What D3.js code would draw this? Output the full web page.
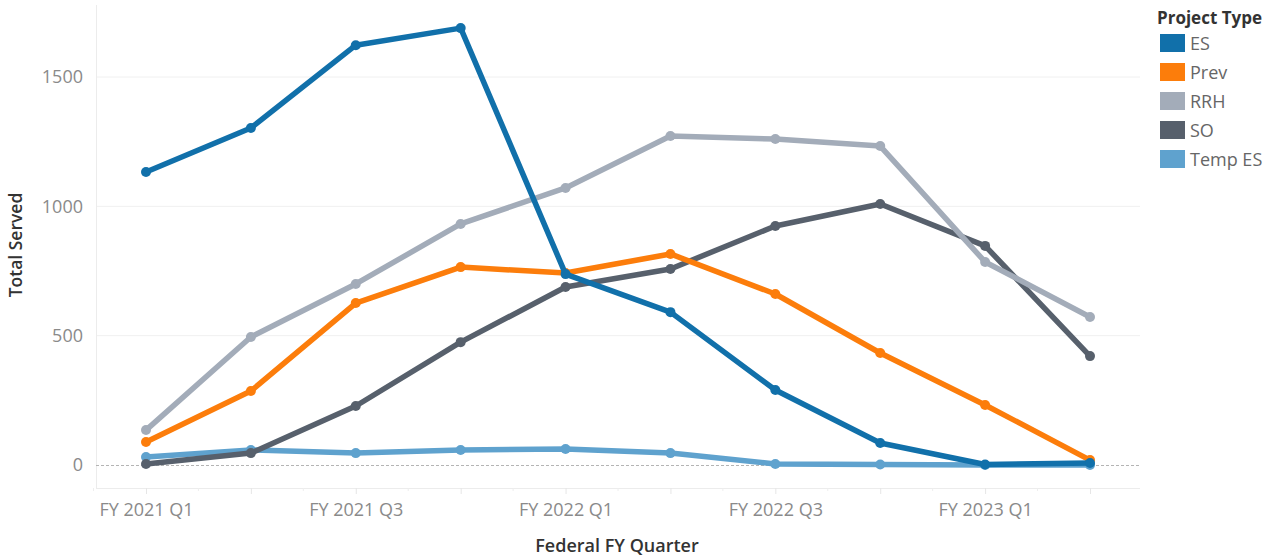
<!doctype html>
<html lang="en">
<head>
<meta charset="UTF-8">
<title>Total Served by Quarter</title>
<script src="https://d3js.org/d3.v7.min.js"></script>
<style>
    body { margin: 0; background: #fff; font-family: "Open Sans", "Lato", sans-serif; }
    .tick text { fill: #8a8a8a; font-size: 18px; font-family: "Open Sans", sans-serif; }
</style>
</head>
<body>
<div id="chart"></div>
<script>

// quarters and tick labels
const quarters = ["FY 2021 Q1", "FY 2021 Q2", "FY 2021 Q3", "FY 2021 Q4", "FY 2022 Q1",
    "FY 2022 Q2", "FY 2022 Q3", "FY 2022 Q4", "FY 2023 Q1", "FY 2023 Q2"];
const tickLabels = ["FY 2021 Q1", "FY 2021 Q3", "FY 2022 Q1", "FY 2022 Q3", "FY 2023 Q1"];
const yTicks = [0, 500, 1000, 1500];

// series values
const projectTypes = ["ES", "Prev", "RRH", "SO", "Temp ES"];
const esValues     = [1133, 1303, 1623, 1689, 738, 591, 290, 85, 2, 8];
const prevValues   = [89, 286, 626, 765, 742, 816, 661, 433, 232, 19];
const rrhValues    = [135, 495, 700, 932, 1071, 1272, 1260, 1233, 785, 572];
const soValues     = [4, 46, 228, 475, 688, 758, 924, 1009, 847, 421];
const tempEsValues = [31, 58, 46, 58, 62, 46, 4, 2, 0, 0];

const colors = ["#1170aa", "#fc7d0b", "#a3acb9", "#57606c", "#5fa2ce"];

const series = [
    {name: "ES", values: esValues},
    {name: "Prev", values: prevValues},
    {name: "RRH", values: rrhValues},
    {name: "SO", values: soValues},
    {name: "Temp ES", values: tempEsValues}
];

const width = 1275, height = 557;
const pane = {left: 96, right: 1140, top: 5, bottom: 488};

let svg = d3.select("#chart").append("svg")
    .attr("width", width)
    .attr("height", height);

//scales
let x = d3.scalePoint()
    .domain(quarters)
    .range([146, 1090]);

let y = d3.scaleLinear()
    .domain([0, 1500])
    .range([465, 77]);

let color = d3.scaleOrdinal()
    .domain(projectTypes)
    .range(colors);

//gridlines
svg.append("g")
    .selectAll("line")
    .data(yTicks.filter(function (d) { return d > 0; }))
    .enter()
    .append("line")
    .attr("x1", pane.left).attr("x2", pane.right)
    .attr("y1", function (d) { return y(d); })
    .attr("y2", function (d) { return y(d); })
    .attr("stroke", "#f0f0f0")
    .attr("stroke-width", 1);

//pane border left and bottom
svg.append("line")
    .attr("x1", pane.left + 0.5).attr("x2", pane.left + 0.5)
    .attr("y1", pane.top).attr("y2", pane.bottom)
    .attr("stroke", "#ececec");
svg.append("line")
    .attr("x1", pane.left).attr("x2", pane.right)
    .attr("y1", pane.bottom + 0.5).attr("y2", pane.bottom + 0.5)
    .attr("stroke", "#ececec");

//zero line
svg.append("line")
    .attr("x1", pane.left).attr("x2", pane.right)
    .attr("y1", y(0) + 0.5).attr("y2", y(0) + 0.5)
    .attr("stroke", "#b4b4b4")
    .attr("stroke-dasharray", "3,2");

//y axis
let yAxis = svg.append("g")
    .attr("transform", "translate(" + pane.left + ",0)")
    .call(d3.axisLeft(y).tickValues(yTicks).tickFormat(d3.format("d")).tickSize(0).tickPadding(13));
yAxis.select(".domain").remove();

//x axis
let xAxis = svg.append("g")
    .attr("transform", "translate(0," + pane.bottom + ")")
    .call(d3.axisBottom(x)
        .tickFormat(function (d) { return tickLabels.indexOf(d) >= 0 ? d : ""; })
        .tickSize(6).tickPadding(9));
xAxis.select(".domain").remove();
xAxis.selectAll(".tick line").attr("stroke", "#e6e6e6");

//half-step minor ticks
const step = x.step();
svg.append("g")
    .selectAll("line")
    .data(quarters)
    .enter()
    .append("line")
    .attr("x1", function (d) { return x(d) - step / 2; })
    .attr("x2", function (d) { return x(d) - step / 2; })
    .attr("y1", pane.bottom).attr("y2", pane.bottom + 3)
    .attr("stroke", "#eeeeee");

//axis titles
svg.append("text")
    .attr("x", 617).attr("y", 552)
    .attr("text-anchor", "middle")
    .attr("font-size", 18).attr("font-weight", 600)
    .attr("fill", "#333")
    .text("Federal FY Quarter");

svg.append("text")
    .attr("transform", "translate(22,245) rotate(-90)")
    .attr("text-anchor", "middle")
    .attr("font-size", 17.5).attr("font-weight", 600)
    .attr("fill", "#333")
    .text("Total Served");

//lines, drawn so ES ends up on top
let line = d3.line()
    .x(function (d, i) { return x(quarters[i]); })
    .y(function (d) { return y(d); });

let groups = svg.append("g")
    .selectAll("g")
    .data(series.slice().reverse())
    .enter()
    .append("g");

groups.append("path")
    .attr("d", function (d) { return line(d.values); })
    .attr("fill", "none")
    .attr("stroke", function (d) { return color(d.name); })
    .attr("stroke-width", 5.5)
    .attr("stroke-linejoin", "round");

groups.selectAll("circle")
    .data(function (d) { return d.values.map(function (v, i) { return {name: d.name, v: v, i: i}; }); })
    .enter()
    .append("circle")
    .attr("cx", function (d) { return x(quarters[d.i]); })
    .attr("cy", function (d) { return y(d.v); })
    .attr("r", 5)
    .attr("fill", function (d) { return color(d.name); });

//legend
let legend = svg.append("g").attr("transform", "translate(1157,0)");
legend.append("text")
    .attr("x", 0).attr("y", 24)
    .attr("font-size", 17).attr("font-weight", 700)
    .attr("fill", "#333")
    .text("Project Type");

let items = legend.selectAll(".item")
    .data(projectTypes)
    .enter()
    .append("g")
    .attr("class", "item")
    .attr("transform", function (d, i) { return "translate(3," + (34 + i * 29) + ")"; });

items.append("rect")
    .attr("width", 25).attr("height", 18)
    .attr("fill", function (d) { return color(d); });

items.append("text")
    .attr("x", 30).attr("y", 16)
    .attr("font-size", 18)
    .attr("fill", "#666")
    .text(function (d) { return d; });

</script>
</body>
</html>
